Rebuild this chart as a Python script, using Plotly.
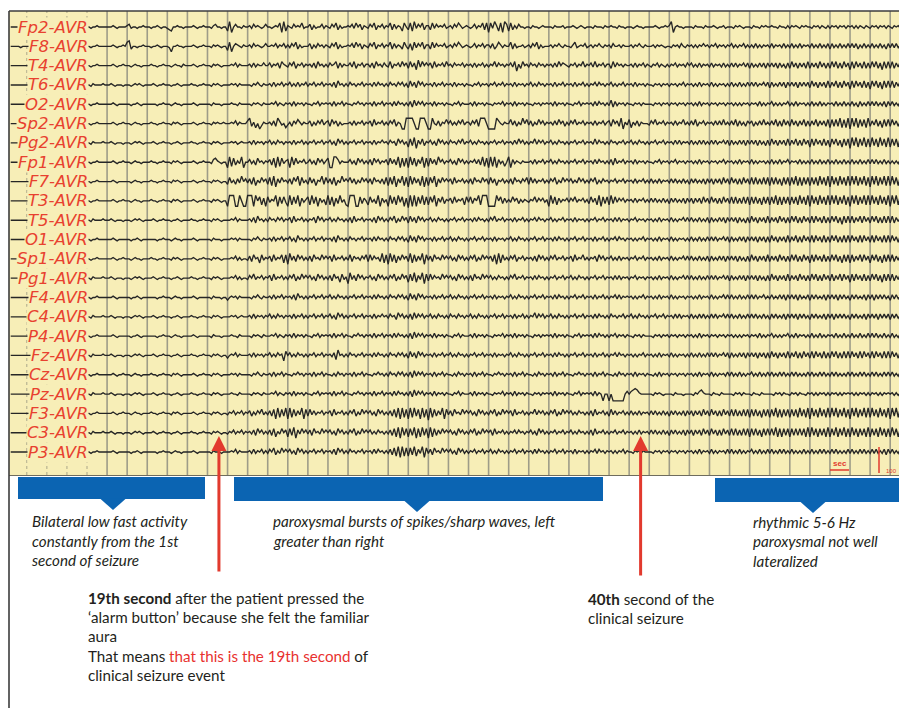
import plotly.graph_objects as go

# ---------------- DATA ----------------
CHANNEL_LABELS = ["Fp2-AVR", "F8-AVR", "T4-AVR", "T6-AVR", "O2-AVR", "Sp2-AVR", "Pg2-AVR",
                  "Fp1-AVR", "F7-AVR", "T3-AVR", "T5-AVR", "O1-AVR", "Sp1-AVR", "Pg1-AVR",
                  "F4-AVR", "C4-AVR", "P4-AVR", "Fz-AVR", "Cz-AVR", "Pz-AVR", "F3-AVR", "C3-AVR", "P3-AVR"]

# one digit per 0.1 s sample, '5' is the channel baseline (blocks of 10 = 1 second)
FP2 = ("5555555555 5545555655 5555455555 5556555455 "
       "5545565555 5556545555 6745545565 5545565455 4325565545 5556545565 5546755455 "
       "2915755465 5647565457 5545658192 6547565845 5736455746 5475836455 6574857365 "
       "4758365746 5837465285 3829475836 6384756574 5647586456 5457465838 1849628197 "
       "2836475545 5465545655 5546555645 5565456545 5546555465 5655465545 5545655455 "
       "5556545565 6915655455 5546555465 5565455645 5546565455 5465546565 5655465546 "
       "4656546565 5465646546 4656465646 5646465465 4656465646 5465646546")
F8 = ("5555555455 5556555555 5555545555 5555556555 "
      "5545565555 5556545565 8935545565 5545565455 5415565545 5556545565 5546565455 "
      "2815765465 5647565457 5565746574 6475836455 5736475646 5475836455 6574857365 "
      "4758365746 5837465385 3728475836 6384756574 5647586456 5457465746 6473586465 "
      "5837455645 6475836455 5646575465 5468456574 5646575465 6475564655 5646575465 "
      "5564656545 5465647546 5646465756 4657465646 5746465746 4647464656 4746564746 "
      "4746474656 4746474647 3746474647 4747364746 4746474637 4747464746")
T4 = ("5555555555 5555565555 5555555455 5555555555 "
      "5545565555 5556545565 5545655455 5565545565 5545655465 5556545565 5546565455 "
      "5565746555 5647465575 5746573865 4758365746 5647385646 4756837465 5748365746 "
      "6473856475 4836574857 3847294857 5738465748 5647565746 5647465746 4658475646 "
      "5748163856 4756475646 5647485765 4657465846 5748465746 6384756465 5647465746 "
      "5465746546 4657465647 5746474656 4746564746 4747465747 3746474737 4747374637 "
      "3847374738 3747384737 3848373847 2838473837 3848372838 3837483847")
T6 = ("5555555555 5555555555 5545555555 5555555655 "
      "5546555565 5565455545 5545656545 5556545565 5545565455 5565545565 5546565455 "
      "5565646555 5546575465 5647465746 5746474657 4657465746 5647385646 4756465746 "
      "5647475646 4756475746 3847385746 5647465746 5647465646 5546574656 4657465746 "
      "5647465646 5746475646 5647465746 5647465746 4657475646 5746465746 5647465646 "
      "5546564656 4656465746 5646474656 4746465646 4746474647 4747465747 3746474737 "
      "4747374747 3847374738 3748373847 2838473837 2848372838 3837482847")
O2 = ("5555555555 5555555555 5555555555 5555545555 "
      "5545565555 5556545555 5545565455 5555545565 5545655455 5556545555 5546555455 "
      "5565546555 5546565465 5565746546 5647465646 5546574656 5647465746 5546575646 "
      "5647465746 5647475646 4738475746 5647465646 5546574655 5647465646 5546565746 "
      "5647465646 5546564656 5647465646 5546574656 5647475646 4837465646 5546564655 "
      "5546564656 4656465646 5646474656 4656465646 5646464656 4656474646 5746464657 "
      "4647465646 4746474646 5647464746 4746374647 4747464737 4746474647")
SP2 = ("5555555555 5555555555 5555565555 5555555555 "
       "5545565555 5556545565 5545655455 5565545565 5546565455 5556545565 5546565565 "
       "5565746555 7936251465 5647396452 4637586465 5736475846 7385736455 5647465746 "
       "5738465746 4758365119 9995119995 1195473658 5746475846 6475839995 1111975465 "
       "5847364958 4736485746 5647485736 4758465746 5647465746 7385739164 8264736555 "
       "4758465746 5647465846 4748365746 5647474846 4748374637 5736474846 4748373847 "
       "3847374837 3748374738 2838392829 1939283829 3748372838 3847374837")
PG2 = ("5555555555 5555555555 5555555555 5555565555 "
       "5546555565 5565455545 5545656545 5556545565 5545565455 5565545565 5546565455 "
       "5565645655 5647465646 5746475646 5647465746 4657465746 5746385746 4657465746 "
       "5647465756 4756385746 2839174836 5746385746 4756475846 5746475646 4657465746 "
       "5647485746 4658475746 5746475646 4657465746 5648475646 4756465746 5746475646 "
       "4657465746 5647474656 4746474746 4747465747 3746474737 4747374637 3847374738 "
       "3748373847 2838473837 2848372838 1939283928 2938293829 2838293928")
FP1 = ("5555555555 5555555555 5555555555 5555555555 "
       "5545565555 5556545565 5545655455 5565545565 5546565455 5556545565 5547865455 "
       "1928364915 5746385646 5738192846 7193846574 5746385746 8119974655 5746385746 "
       "4738574657 3847391828 1938274918 2847395746 5746385746 4657473928 1929174625 "
       "9174654655 5647465746 5746475646 4657465746 5647475646 4738465746 5647465646 "
       "5546574656 4657465646 5646474656 4656465746 5646474656 4746465646 4746474657 "
       "4656474646 4746474647 4647464746 4746474647 4747464746 4646474647")
F7 = ("5555555555 5555555555 5555555555 5555555555 "
      "5545565555 5556545555 5545655455 5565545565 5546565455 5556545565 5546565455 "
      "3846374957 4738264857 3829174856 4738592846 3847265938 4738264957 5847364857 "
      "4738564738 2839174928 1938472918 2849174857 5738465746 4738564857 3847265746 "
      "4738564758 3847465746 4758364857 5746485746 4758364756 4657465746 5647465746 "
      "4746474656 4747464746 3747464737 4737473847 3847373847 3838373838 2838372838 "
      "2839282838 2838293829 1938293829 2939283928 1939283929 2938293829")
T3 = ("5555555555 5555555555 5555555555 5555555555 "
      "5545565555 5556545565 5545655455 5565545565 5546565455 5556545565 5546565455 "
      "1999119511 9991958271 8465918384 1928391746 8293817462 9281739462 1999118375 "
      "2846391746 1938294817 0919183928 2849174836 5738465728 4837592999 1111958374 "
      "6485736465 4658475746 1938274657 4758465746 3847291838 2938475746 5647465746 "
      "4747464746 3747464737 4737473847 3847373847 3838373838 2838372838 2839282838 "
      "2838293829 1938293829 2939283928 1939283929 2938293829 1939293828")
T5 = ("5555555555 5555555555 5555555555 5555555555 "
      "5546555565 5565455545 5545656545 5556545565 5545565455 5565545565 5546565455 "
      "5565746555 5647385646 4756475746 5738465746 4657385746 5746475646 4738465746 "
      "5647385746 4758364857 3847385746 5746475646 4657465746 5647475646 4758465746 "
      "5647465746 4657475646 5746465746 5647465646 4657465746 5647474656 4657465646 "
      "5646474656 4746465747 4746474647 3746474737 4747374637 3847374738 3747384737 "
      "3848373847 3838473837 3848372838 3837483847 3848373838 3837473847")
O1 = ("5555555555 5555555555 5555555555 5555555555 "
      "5545565555 5556545555 5545565455 5555545565 5545655455 5556545555 5546555455 "
      "5565646555 5546575465 5647465746 5746385646 4657465746 5647385646 4756465746 "
      "5647475646 4756475746 3847385746 5647465746 5746475646 4657465746 5647465646 "
      "5746475646 4657465746 5647475646 4657465746 5647465746 4657475646 5646465746 "
      "5646474656 4746465646 4746474647 4747465747 3746474737 4747374737 3847374738 "
      "3748373847 3838473837 3848373838 3847383847 3838473838 3847383847")
SP1 = ("5555555555 5555555555 5555555555 5555555555 "
       "5545565555 5556545565 5545655455 5565545565 5546565455 5556545565 5546565455 "
       "5565746455 4738562846 5738465828 1947385746 4738564857 5738465746 4837564758 "
       "3847563928 1938274857 3928374918 4738564857 5746385746 4758364857 5738192846 "
       "4758365746 5647385746 4758465746 5738465846 4657385746 5746474656 4657465746 "
       "5646474656 4746465747 4746474647 3746474737 4747374637 3847374738 3747384737 "
       "3848373847 2838473837 3848372838 2837483847 2848372838 3837483847")
PG1 = ("5555555555 5555555555 5555555555 5555555555 "
       "5546555565 5565455545 5545656545 5556545565 5545565455 5565545565 5546565455 "
       "5565746455 4758465746 5738465746 4758364857 5746385746 4738562846 1947385746 "
       "5746385746 4758364857 2839274918 3847564857 5746385746 4738564857 5746475646 "
       "4758465746 5647475646 4657465746 5746475646 4657465746 5647474656 4657465646 "
       "5646474656 4746465747 4746474647 4747465747 3746474737 4747374637 3847374738 "
       "3747384737 3848373847 3837483847 2838473837 3848372838 3837483847")
F4 = ("5555555555 5555555555 5555555555 5555555555 "
      "5545565555 5556545555 5545565455 5555545565 5545655455 5556545555 5546555455 "
      "3565646555 5546575465 5647465746 5647385646 4657465746 5746475646 4657465746 "
      "5647475646 4756475746 3847385746 5647465746 5746475646 4657465746 5647465646 "
      "5746475646 4657465746 5647475646 4657465746 5647465746 4657474656 5646465746 "
      "5646474656 4746465646 5646474656 4746465747 4746474647 4747465746 4746474737 "
      "4747374647 3747464737 4747374746 3747464737 4737474746 3747464737")
C4 = ("5555555555 5555555555 5555555555 5555555555 "
      "5546555565 5565455545 5545656545 5556545565 5545565455 5565545565 5546565455 "
      "5565645655 5647465646 5746475646 5647465746 4657465746 5746385746 4657465746 "
      "5647465756 4756385746 4738475746 5746475646 4756475646 5746475646 4657465746 "
      "5647465746 4658475746 5746475646 4657465746 5647475646 4756465746 5746475646 "
      "4657465746 5647474656 4746474746 4747465747 4746474647 4747464746 3747464737 "
      "4747374746 3747464737 4737474746 3747464737 4747374747 3747464737")
P4 = ("5555555555 5555555555 5555555555 5555555555 "
      "5545565555 5556545555 5545565455 5555545565 5545655455 5556545555 5546555455 "
      "5565546555 5546565465 5565746546 5647465646 5546574656 5647465746 5546575646 "
      "5647465746 5647475646 4738475746 5647465646 5546574655 5647465646 5546565746 "
      "5647465646 5546564656 5647465646 5546574656 5647475646 4657465646 5546564655 "
      "5546564656 4656465646 5646474656 4656465646 5646464656 4656474646 5746464657 "
      "4647465646 4746474646 5647464746 4746474647 4747464746 4746474647")
FZ = ("5555555555 5555555555 5555555555 5555555555 "
      "5546555565 5565455545 5545656545 5556545565 5545565455 5565545565 5546565455 "
      "3565746555 5647465646 5746475618 5746475646 4657465746 5647295646 4756465746 "
      "5647475646 4756475746 3847385746 5647465746 5746475646 4657465746 5647465646 "
      "5746475646 4657465746 5647475646 4657465746 5647465746 4657475646 5646465746 "
      "5646474656 4746465646 4746474647 4747465747 3746474737 4747374737 3847374738 "
      "3748373847 3838473837 3848373838 3847383847 3838473838 3847383847")
CZ = ("5555555555 5555555555 5555555555 5555555555 "
      "5545565555 5556545565 5545655455 5565545565 5546565455 5556545565 5546565455 "
      "5565646555 5546575465 5647465746 5546575646 5647465746 5546475646 5647465746 "
      "5546575646 4756475746 4738475746 5647465746 5546475646 5647465746 5546575646 "
      "5647465746 5546475646 5647465746 5546575646 5647465746 5546475646 5647465646 "
      "5546474656 4656465646 5646474656 4746465647 4746474646 5746474647 4746474746 "
      "4747464647 4746474746 4747464647 4746474746 4747464747 4746474647")
PZ = ("5555555555 5555555555 5555555555 5555555555 "
      "5546555565 5565455545 5545656545 5556545565 5545565455 5565545565 5546565455 "
      "5565546555 5546565465 5565746546 5647465646 5546574656 5647465746 5546575646 "
      "5647465746 5647475646 4738475746 5647465646 5546574655 5647465646 5546565746 "
      "5647465646 5546564656 5647465646 5546574656 5647465055 0500000057 5789865555 "
      "5546565455 5546555455 5546578655 5465546555 5546564655 5465546555 5546564655 "
      "4656465546 5646465646 4656464656 5646465646 4656464656 5646465646")
F3 = ("5555555555 5555555555 5555555555 5555555555 "
      "5545565555 5556545565 5545655455 5565545565 5546565455 5556545565 5546565455 "
      "4657465746 5736475846 4738192839 1928374918 3847465746 5738465746 4758364857 "
      "5746385746 4738291928 1929381928 0928374918 4738564857 5746385746 4758364857 "
      "5738465746 4658475746 4758364857 5746475646 4738465746 3847465746 4746474656 "
      "4747464746 3747464737 4737473847 3847373847 3838373838 2838372838 2839282838 "
      "2838293829 1938293829 2939283928 1939283929 2938293829 1939293828")
C3 = ("5555555555 5555555555 5555555555 5555555555 "
      "5546555565 5565455545 5545656545 5556545565 5545565455 5565545565 5546565455 "
      "4657465746 5647385746 4738264857 2839174857 4738564857 5746385746 4758364857 "
      "5746475646 4738291938 2839182938 1928374857 5746385746 4758364857 5738465746 "
      "4657475646 5746385746 4657465746 5746475646 4738465746 4657465746 5646474656 "
      "4747464746 3747464737 4737473847 3847373847 3838373838 2838372838 3839282838 "
      "2838383829 2938283829 2839283928 2938283829 2838293828 2938283829")
P3 = ("5555555555 5555555555 5555555555 5555555555 "
      "5545565555 5556545555 5545565455 5555545565 5545655455 5556545555 5546555455 "
      "5565746555 5647465746 4758364857 5746385746 4657465746 5647385746 4756465746 "
      "5647475646 4738291928 2839274918 4738564857 5746385746 4657465746 5746475646 "
      "4657465746 5647475646 4657465746 5647465646 4657475646 5646465746 5546564655 "
      "5546564656 4656465646 5646474656 4746465647 4746474646 5746474647 4746474746 "
      "4746464746 4746474746 4747464647 4746474746 4747464737 4746474746")

CHANNEL_DATA = [FP2, F8, T4, T6, O2, SP2, PG2, FP1, F7, T3, T5, O1, SP1, PG1,
                F4, C4, P4, FZ, CZ, PZ, F3, C3, P3]

SAMPLE_DT = 0.1          # seconds per digit
T_START = -4.0           # time of first digit (strip seconds)
SEIZURE_SEC_AT_T0 = 12.43
ARROW_SECONDS = [19, 40]

TEXT_LOW = ["Bilateral low fast activity", "constantly from the 1st", "second of seizure"]
TEXT_BURST = ["paroxysmal bursts of spikes/sharp waves, left", "greater than right"]
TEXT_RHYTHM = ["rhythmic 5-6 Hz", "paroxysmal not well", "lateralized"]
TEXT_19 = ["<b>19th second</b> after the patient pressed the",
           "\u2018alarm button\u2019 because she felt the familiar",
           "aura",
           "That means <span style='color:#E8312F'>that this is the 19th second</span> of",
           "clinical seizure event"]
TEXT_40 = ["<b>40th</b> second of the", "clinical seizure"]

# ---------------- LAYOUT HELPERS ----------------
W, H = 899, 708
PX0, PPS = 87.0, 20.08        # strip origin (px) and px per second
ROW0, ROWH = 27.0, 19.32      # first channel baseline (px) and channel spacing (px)
GAIN = 1.35 / ROWH            # one digit step in channel units


def tx(px):
    return (px - PX0) / PPS


def ty(py):
    return -(py - ROW0) / ROWH


PANEL = "#F7EEB7"
GRID = "#9E9C88"
TRACE = "#262626"
RED = "#E23A2E"
LABEL_RED = "#E8412F"
BLUE = "#0B64B2"
TXT = "#231F20"

fig = go.Figure()

for k, (lab, s) in enumerate(zip(CHANNEL_LABELS, CHANNEL_DATA)):
    digits = "".join(s.split())
    xs, ys = [], []
    for i, c in enumerate(digits):
        t = T_START + i * SAMPLE_DT
        if t < tx(9.5):
            continue
        xs.append(t)
        ys.append(-k + (int(c) - 5) * GAIN)
    fig.add_trace(go.Scatter(x=xs, y=ys, mode="lines", line=dict(color=TRACE, width=1.35),
                             hoverinfo="skip", showlegend=False))

shapes = []
# panel
shapes.append(dict(type="rect", xref="x", yref="y", x0=tx(9), x1=tx(899), y0=ty(475), y1=ty(11),
                   fillcolor=PANEL, line=dict(width=0), layer="below"))
# second gridlines
for sec in range(-3, 41):
    dashed = sec <= 0
    shapes.append(dict(type="line", xref="x", yref="y", x0=sec, x1=sec, y0=ty(475), y1=ty(11),
                       line=dict(color="#B8B392" if dashed else GRID, width=1.2 if dashed else 1.6,
                                 dash="dot" if dashed else "solid"), layer="below"))
# frame
shapes.append(dict(type="line", xref="x", yref="y", x0=tx(9), x1=tx(899), y0=ty(11), y1=ty(11),
                   line=dict(color="#3C3C3C", width=1.6)))
shapes.append(dict(type="line", xref="x", yref="y", x0=tx(9), x1=tx(899), y0=ty(475.5), y1=ty(475.5),
                   line=dict(color="#6E6C5E", width=1.2)))
shapes.append(dict(type="line", xref="x", yref="y", x0=tx(9), x1=tx(9), y0=ty(11), y1=ty(708),
                   line=dict(color="#3C3C3C", width=1.6)))

# blue phase bars with pointer triangles
for (x0, x1, y0, y1, cx) in [(18, 205, 477, 499, 113), (234, 603, 477, 501, 417), (715, 899, 478, 502, 813)]:
    shapes.append(dict(type="rect", xref="x", yref="y", x0=tx(x0), x1=tx(x1), y0=ty(y1), y1=ty(y0),
                       fillcolor=BLUE, line=dict(width=0)))
    shapes.append(dict(type="path", xref="x", yref="y",
                       path=f"M {tx(cx-13)},{ty(y1-0.5)} L {tx(cx+13)},{ty(y1-0.5)} L {tx(cx)},{ty(y1+11)} Z",
                       fillcolor=BLUE, line=dict(width=0)))

# calibration marks
shapes.append(dict(type="line", xref="x", yref="y", x0=tx(830), x1=tx(849), y0=ty(470), y1=ty(470),
                   line=dict(color=RED, width=1.5)))
shapes.append(dict(type="line", xref="x", yref="y", x0=tx(879), x1=tx(879), y0=ty(447), y1=ty(473),
                   line=dict(color=RED, width=1.5)))

annotations = []
for k, lab in enumerate(CHANNEL_LABELS):
    annotations.append(dict(x=tx(88.5), y=-k, xref="x", yref="y", xanchor="right", yanchor="middle",
                            text=f"<i>{lab}</i>", showarrow=False, bgcolor=PANEL, borderpad=0,
                            font=dict(family="DejaVu Sans", size=16.5, color=LABEL_RED)))

for sec in ARROW_SECONDS:
    t = sec - SEIZURE_SEC_AT_T0
    bottom = 573 if sec == 19 else 577
    annotations.append(dict(x=t, y=ty(436), ax=t, ay=ty(bottom), xref="x", yref="y", axref="x", ayref="y",
                            text="", showarrow=True, arrowhead=2, arrowsize=1, arrowwidth=3,
                            arrowcolor=RED, standoff=0, startstandoff=0))

annotations.append(dict(x=tx(840), y=ty(463), xref="x", yref="y", text="<b>sec</b>", showarrow=False,
                        font=dict(family="Liberation Sans", size=8, color=RED)))
annotations.append(dict(x=tx(884), y=ty(471), xref="x", yref="y", text="100", showarrow=False,
                        xanchor="left", font=dict(family="Liberation Sans", size=6, color=RED)))


def add_block(lines, x_px, y_first, step, italic):
    for j, line in enumerate(lines):
        txt = f"<i>{line}</i>" if italic else line
        annotations.append(dict(x=tx(x_px), y=ty(y_first + j * step), xref="x", yref="y",
                                xanchor="left", yanchor="middle", text=txt, showarrow=False,
                                font=dict(family="Lato", size=15.2, color=TXT)))


add_block(TEXT_LOW, 30, 521, 19.5, True)
add_block(TEXT_BURST, 271, 521, 19.5, True)
add_block(TEXT_RHYTHM, 751, 522, 19.3, True)
add_block(TEXT_19, 86, 598, 19.2, False)
add_block(TEXT_40, 586, 599, 18.5, False)

fig.update_layout(
    width=W, height=H, autosize=False,
    margin=dict(l=0, r=0, t=0, b=0, pad=0),
    paper_bgcolor="white", plot_bgcolor="white",
    xaxis=dict(range=[tx(0), tx(W)], visible=False, fixedrange=True),
    yaxis=dict(range=[ty(H), ty(0)], visible=False, fixedrange=True),
    shapes=shapes, annotations=annotations, showlegend=False,
)

fig.write_html("out.html", config={"displayModeBar": False},
               post_script="document.body.style.margin='0';document.body.style.overflow='hidden';")
